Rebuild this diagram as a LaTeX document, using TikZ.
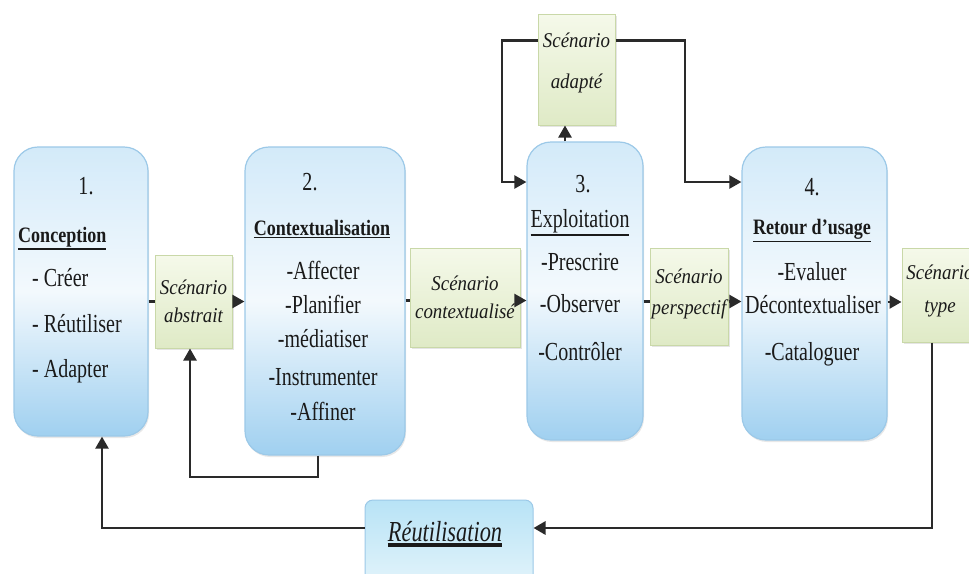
\documentclass[tikz,border=0pt]{standalone}
\usepackage{fontspec}
\setmainfont{Liberation Serif}
\newfontfamily\condfont[FakeStretch=0.77]{Liberation Serif}
\newfontfamily\headfont[FakeStretch=0.82]{Liberation Serif}
\newfontfamily\scenfont[FakeStretch=0.9]{Liberation Serif}
\usetikzlibrary{arrows.meta,calc,shadows}
\newcommand\ulthick[2]{\vtop{\hbox{#2}\kern1.8pt\hrule height #1}}
\definecolor{phborder}{HTML}{9CC9E8}
\definecolor{phtop}{HTML}{D3EAF9}
\definecolor{phmid}{HTML}{F3F9FD}
\definecolor{phbot}{HTML}{A0D0F0}
\definecolor{scborder}{HTML}{C9D8A8}
\definecolor{sctop}{HTML}{F5F9EA}
\definecolor{scbot}{HTML}{DFEAC6}
\definecolor{reutop}{HTML}{B8E3F6}
\definecolor{reubot}{HTML}{E6F5FB}
\definecolor{linecol}{HTML}{2A2A2A}
\definecolor{txt}{HTML}{1A1A1A}
\tikzset{
  phase/.style={draw=phborder, line width=1.2pt, rounded corners=24pt,
    top color=phtop, bottom color=phbot, middle color=phmid, inner sep=0pt,
    drop shadow={opacity=0.18, shadow xshift=1pt, shadow yshift=-2pt}},
  scen/.style={draw=scborder, line width=1pt, top color=sctop, bottom color=scbot,
    inner sep=0pt, drop shadow={opacity=0.2, shadow xshift=1.5pt, shadow yshift=-1.5pt}},
  reubox/.style={draw=phborder, line width=1pt, rounded corners=8pt,
    top color=reutop, bottom color=reubot, inner sep=0pt},
  item/.style={font=\condfont\fontsize{26}{30}\selectfont, text=txt, inner sep=0pt, anchor=base},
  itemw/.style={item, anchor=base west},
  head/.style={font=\headfont\bfseries\fontsize{22}{26}\selectfont, text=txt, inner sep=0pt, anchor=base},
  headw/.style={head, anchor=base west},
  stxt/.style={font=\scenfont\itshape\fontsize{21}{24}\selectfont, text=txt, inner sep=0pt, anchor=base},
  conn/.style={draw=linecol, line width=2.3pt},
  arr/.style={conn, -{Triangle[length=12pt,width=13pt]}},
}
\begin{document}
\begin{tikzpicture}[x=1pt,y=-1pt]
\useasboundingbox (0,0) rectangle (969,573);
\fill[white] (0,0) rectangle (969,573);
% phase boxes
\node[phase, minimum width=134pt, minimum height=289pt] (b1) at (81,291.5) {};
\node[phase, minimum width=160pt, minimum height=308pt] (b2) at (325,301) {};
\node[phase, minimum width=116pt, minimum height=298pt] (b3) at (585,291) {};
\node[phase, minimum width=145pt, minimum height=293pt] (b4) at (814.5,293.5) {};
% scenario boxes
\node[scen, minimum width=77pt, minimum height=93pt] (abs) at (193.5,301.5) {};
\node[scen, minimum width=110pt, minimum height=99pt] (ctx) at (465,297.5) {};
\node[scen, minimum width=77pt, minimum height=111pt] (ada) at (576.5,69.5) {};
\node[scen, minimum width=78pt, minimum height=97pt] (per) at (689,296.5) {};
\node[scen, minimum width=80pt, minimum height=94pt] (typ) at (942,295) {};
% reutilisation
\node[reubox, minimum width=168pt, minimum height=92pt] (reu) at (449,546) {};
\node[font=\condfont\itshape\fontsize{29}{32}\selectfont, text=txt, inner sep=0pt, anchor=base] (reut) at (445,541) {\ulthick{3.4pt}{Réutilisation}};
% box 1 text
\node[item] (b1n) at (86,194) {1.};
\node[headw] (b1h) at (18,242) {\ulthick{1.2pt}{Conception}};
\node[itemw] (b1a) at (32,286) {- Créer};
\node[itemw] (b1b) at (32,332) {- Réutiliser};
\node[itemw] (b1c) at (32,377) {- Adapter};
% box 2 text
\node[item] (b2n) at (310,190) {2.};
\node[head] (b2h) at (322,235) {\ulthick{1.2pt}{Contextualisation}};
\node[item] (b2a) at (323,279) {-Affecter};
\node[item] (b2b) at (323,313) {-Planifier};
\node[item] (b2c) at (323,347) {-médiatiser};
\node[item] (b2d) at (323,385) {-Instrumenter};
\node[item] (b2e) at (323,420) {-Affiner};
% box 3 text
\node[item] (b3n) at (583,192) {3.};
\node[item] (b3h) at (580,227) {\ulthick{1.2pt}{Exploitation}};
\node[item] (b3a) at (580,270) {-Prescrire};
\node[item] (b3b) at (580,312) {-Observer};
\node[item] (b3c) at (580,360) {-Contrôler};
% box 4 text
\node[item] (b4n) at (812,195) {4.};
\node[head] (b4h) at (812,234) {\ulthick{1.2pt}{Retour d’usage}};
\node[item] (b4a) at (812,280) {-Evaluer};
\node[item] (b4b) at (813,313) {Décontextualiser};
\node[item] (b4c) at (812,360) {-Cataloguer};
% scenario labels
\node[stxt] (absa) at (193.5,294) {Scénario};
\node[stxt] (absb) at (193.5,322) {abstrait};
\node[stxt] (ctxa) at (465,290) {Scénario};
\node[stxt] (ctxb) at (465,318) {contextualisé};
\node[stxt] (adaa) at (576.5,47) {Scénario};
\node[stxt] (adab) at (576.5,88) {adapté};
\node[stxt] (pera) at (689,283) {Scénario};
\node[stxt] (perb) at (689,314) {perspectif};
\node[stxt] (typa) at (940,279) {Scénario};
\node[stxt] (typb) at (940,312) {type};
% coordinates
\coordinate (la) at (502,182);
\coordinate (ra) at (685,182);
\coordinate (lb) at (190,477);
\coordinate (rt) at (932,528);
\coordinate (lt) at (102,528);
% connectors
\draw[conn] (abs.west -| b1.east) -- (abs.west);
\draw[arr] (abs.east) -- (abs.east -| b2.west);
\draw[conn] ([yshift=-3pt]ctx.west -| b2.east) -- ([yshift=-3pt]ctx.west);
\draw[arr] ([yshift=-3pt]ctx.east) -- ([yshift=-3pt]ctx.east -| b3.west);
\draw[conn] ([yshift=-5pt]per.west -| b3.east) -- ([yshift=-5pt]per.west);
\draw[arr] ([yshift=-5pt]per.east) -- ([yshift=-5pt]per.east -| b4.west);
\draw[arr] ([yshift=-7pt]typ.west -| b4.east) -- ([yshift=-7pt]typ.west);
\draw[arr] ([xshift=-11.5pt]ada.south |- b3.north) -- ([xshift=-11.5pt]ada.south);
\draw[arr] ([yshift=-27pt]ada.north west) -| (la) -- (la -| b3.west);
\draw[arr] ([yshift=-27pt]ada.north east) -| (ra) -- (ra -| b4.west);
\draw[arr] ([xshift=-7pt]b2.south) |- (lb) -- (lb |- abs.south);
\draw[arr, line width=2.8pt] (typ.south -| rt) -- (rt) -- (rt -| reu.east);
\draw[arr] (lt -| reu.west) -- (lt) -- (lt |- b1.south);
\end{tikzpicture}
\end{document}
